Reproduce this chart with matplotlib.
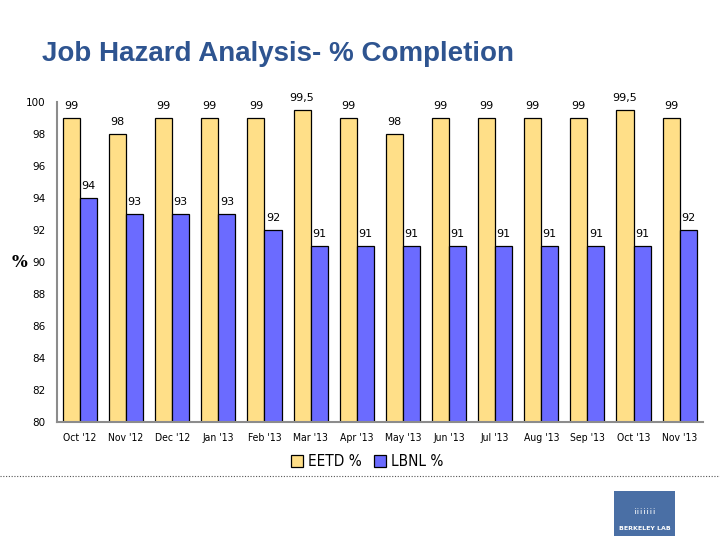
import numpy as np
import matplotlib
matplotlib.use('Agg')
from matplotlib import pyplot as plt
from matplotlib.patches import Rectangle

# chart data
months = ["Oct '12", "Nov '12", "Dec '12", "Jan '13", "Feb '13", "Mar '13", "Apr '13",
          "May '13", "Jun '13", "Jul '13", "Aug '13", "Sep '13", "Oct '13", "Nov '13"]
eetd = [99, 98, 99, 99, 99, 99.5, 99, 98, 99, 99, 99, 99, 99.5, 99]
lbnl = [94, 93, 93, 93, 92, 91, 91, 91, 91, 91, 91, 91, 91, 92]
series_names = ['EETD %', 'LBNL %']

fig = plt.figure(figsize=(7.2, 5.4), dpi=100)
ax = fig.add_axes([0.079, 0.2185, 0.897, 0.592])

x = np.arange(len(months))
w = 0.37
b1 = ax.bar(x - w / 2, eetd, w, color='#FFDF88', edgecolor='black', linewidth=0.9,
            label=series_names[0], zorder=2)
b2 = ax.bar(x + w / 2, lbnl, w, color='#6B6BFF', edgecolor='black', linewidth=0.9,
            label=series_names[1], zorder=2)

def fmt(v):
    return ('%g' % v).replace('.', ',')

for rect, v in zip(b1, eetd):
    ax.annotate(fmt(v), (rect.get_x() + rect.get_width() / 2, v), xytext=(0, 5.5),
                textcoords='offset points', ha='center', va='bottom', fontsize=8)
for rect, v in zip(b2, lbnl):
    ax.annotate(fmt(v), (rect.get_x() + rect.get_width() / 2, v), xytext=(0, 5.5),
                textcoords='offset points', ha='center', va='bottom', fontsize=8)

ax.set_xlim(-0.5, len(months) - 0.5)
ax.set_ylim(80, 100)
ax.set_yticks(range(80, 101, 2))
ax.set_xticks(x)
ax.set_xticklabels(months, fontsize=7.5, stretch='condensed')
ax.tick_params(axis='y', labelsize=7.5, length=0, pad=8)
ax.tick_params(axis='x', length=0, pad=8)
for s in ['top', 'right']:
    ax.spines[s].set_visible(False)
for s in ['left', 'bottom']:
    ax.spines[s].set_color('#8c8c8c')
    ax.spines[s].set_linewidth(1.5)

fig.text(0.027, 0.513, '%', fontsize=12, fontweight='bold', ha='center', va='center',
         family='DejaVu Serif')

fig.text(0.058, 0.9, 'Job Hazard Analysis- % Completion', fontsize=20, fontweight='bold',
         color='#2E5490', family='Liberation Sans', ha='left', va='center')

leg = fig.legend(loc='center', bbox_to_anchor=(0.51, 0.145), ncol=2, frameon=False,
                 handlelength=0.8, handleheight=0.8, handletextpad=0.3,
                 columnspacing=0.8, prop={'stretch': 'condensed', 'size': 11})

# dotted separator line
fig.add_artist(plt.Line2D([0, 1], [0.118, 0.118], transform=fig.transFigure,
                          color='#555555', linestyle=(0, (1, 1.5)), linewidth=0.8))

# Berkeley Lab logo box
fig.add_artist(Rectangle((0.853, 0.007), 0.085, 0.083, transform=fig.transFigure,
                         facecolor='#4A6FA5', edgecolor='none'))
fig.text(0.8955, 0.022, 'BERKELEY LAB', fontsize=4.5, color='white', fontweight='bold',
         ha='center', va='center')
fig.text(0.8955, 0.055, '¡¡¡¡¡¡¡', fontsize=6, color='white', ha='center', va='center')

fig.savefig('out.png', dpi=100)
